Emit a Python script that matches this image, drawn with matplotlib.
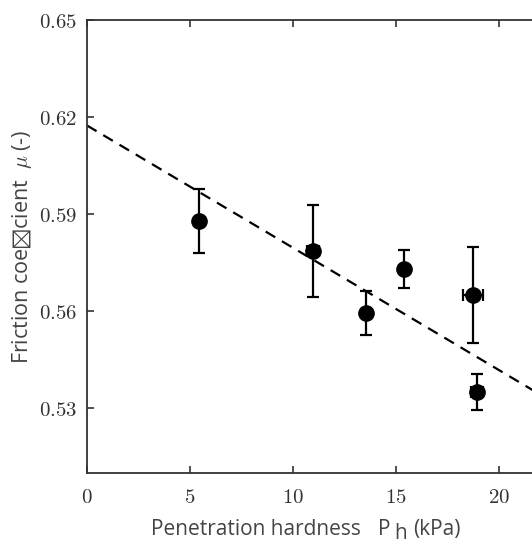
import matplotlib
matplotlib.use("Agg")
import matplotlib.pyplot as plt
import numpy as np

plt.rcParams['mathtext.fontset'] = 'cm'

# measured points (penetration hardness kPa, friction coefficient)
ph = [5.45, 10.96, 13.54, 15.4, 18.72, 18.92]
mu = [0.5879, 0.5787, 0.5593, 0.5730, 0.5650, 0.5351]
mu_err = [0.0100, 0.0142, 0.0068, 0.0058, 0.0149, 0.0055]
ph_err = [0.0, 0.3, 0.2, 0.0, 0.48, 0.3]

# linear fit  mu = a + b * Ph
fit_a = 0.6174
fit_b = -0.00378

xticks = [0, 5, 10, 15, 20]
yticks = [0.53, 0.56, 0.59, 0.62, 0.65]

W, H = 532, 544
fig = plt.figure(figsize=(W/100, H/100), dpi=100)
# right edge of the box sits just outside the picture
ax = fig.add_axes([87/W, 71/H, 447/W, 453/H])

xx = np.array([0, 25])
ax.plot(xx, fit_a + fit_b*xx, 'k--', lw=1.6, dashes=(5, 3.5))

ax.errorbar(ph, mu, yerr=mu_err, xerr=ph_err, fmt='o', color='k', ms=11,
            elinewidth=1.6, capsize=4, capthick=1.6)

ax.set_xlim(0, 447/20.6)
ax.set_ylim(0.51, 0.65)
ax.set_xticks(xticks)
ax.set_yticks(yticks)
ax.set_xticklabels(['$%d$' % t for t in xticks], fontsize=15, color='#333333')
ax.set_yticklabels(['$%.2f$' % t for t in yticks], fontsize=15, color='#333333')
ax.tick_params(direction='in', length=5, width=1.2, color='#333333',
               top=True, right=False)
ax.tick_params(axis='x', pad=10)
ax.tick_params(axis='y', pad=7)
for s in ax.spines.values():
    s.set_color('#333333')
    s.set_linewidth(1.3)

# x label in pieces: the subscript h sits well below the line
lab = dict(fontsize=15, family='Open Sans', color='#444444', va='baseline', ha='left')
fig.text(151/W, (H-535)/H, 'Penetration hardness', **lab)
fig.text(378/W, (H-535)/H, 'P', **lab)
fig.text(394/W, (H-539)/H, 'h', **lab)
fig.text(413/W, (H-535)/H, '(kPa)', **lab)

ax.set_ylabel(r'Friction coe$\boxtimes$cient  $\mu$ (-)', fontsize=15.5,
              family='Open Sans', color='#444444')
ax.yaxis.set_label_coords(-(87-34)/447, 0.5)

fig.savefig('out.png', dpi=100)
